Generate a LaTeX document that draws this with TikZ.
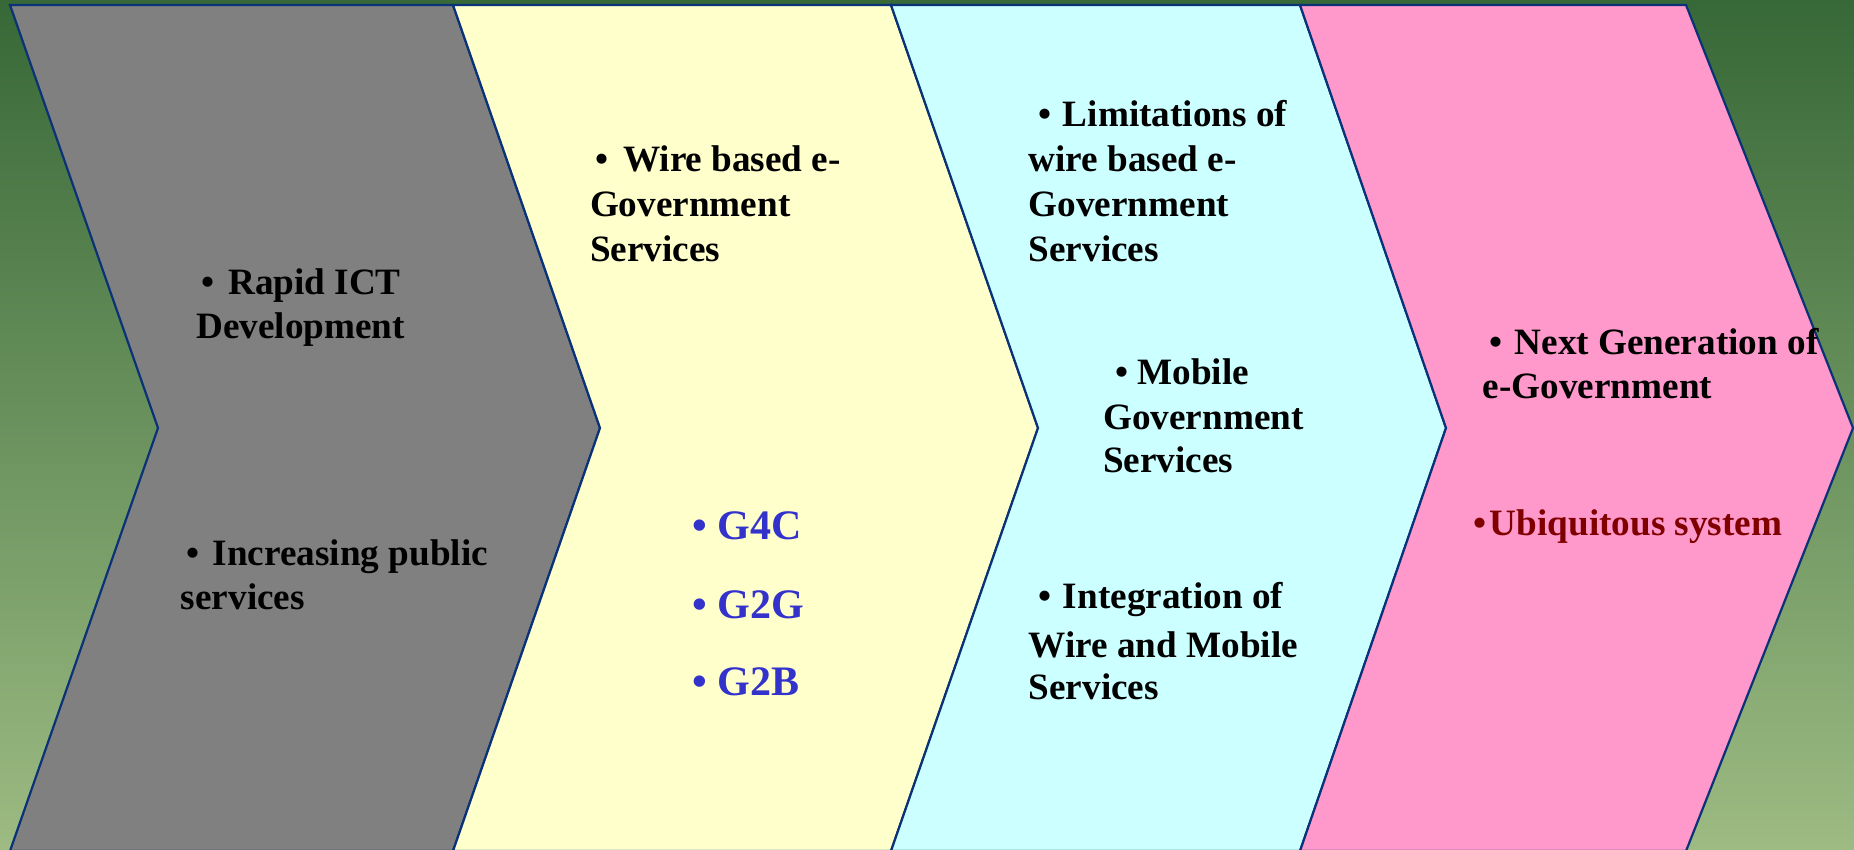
\documentclass[tikz,border=0pt]{standalone}
\usepackage{fontspec}
\setmainfont{Liberation Serif}
\definecolor{bgtop}{RGB}{55,104,55}
\definecolor{bgmid}{RGB}{100,143,88}
\definecolor{bgbot}{RGB}{157,187,131}
\definecolor{edge}{RGB}{10,50,120}
\definecolor{cgray}{RGB}{128,128,128}
\definecolor{cyel}{RGB}{255,255,204}
\definecolor{ccyan}{RGB}{204,255,255}
\definecolor{cpink}{RGB}{255,153,204}
\definecolor{gblue}{RGB}{51,51,204}
\definecolor{ured}{RGB}{128,0,0}
\newdimen\pxu
\pxu=1.1824pt
\tikzset{
  chev/.style={draw=edge, line width=2.2pt, line join=miter},
  txt/.style={anchor=base west, inner sep=0pt, outer sep=0pt, font=\fontsize{37.2}{44}\selectfont\bfseries},
  gtxt/.style={anchor=base west, inner sep=0pt, outer sep=0pt, text=gblue, font=\fontsize{42}{48}\selectfont\bfseries},
  rtxt/.style={txt, text=ured}
}
\newcommand\bul[2]{\hspace*{#1\pxu}\makebox[#2\pxu][l]{•}}
\begin{document}
\begin{tikzpicture}[x=1pt,y=-1pt]
\useasboundingbox (0,0) rectangle (1854,850);
\clip (0,0) rectangle (1854,850);
\shade[top color=bgtop, middle color=bgmid, bottom color=bgbot] (0,0) rectangle (1854,850);
% chevrons
\filldraw[chev, fill=cgray] (10,5) -- (453,5) -- (600,428) -- (453,851) -- (10,851) -- (158,428) -- cycle;
\filldraw[chev, fill=cyel] (453,5) -- (891,5) -- (1038,428) -- (891,851) -- (453,851) -- (600,428) -- cycle;
\filldraw[chev, fill=ccyan] (891,5) -- (1300,5) -- (1446,428) -- (1300,851) -- (891,851) -- (1038,428) -- cycle;
\filldraw[chev, fill=cpink] (1300,5) -- (1686,5) -- (1853,428) -- (1686,851) -- (1300,851) -- (1446,428) -- cycle;
\begin{scope}[x=1.1824pt,y=-1.1824pt]
% chevron 1
\node[txt] (a1) at (166,249) {\bul{4}{23}Rapid ICT};
\node[txt] (a2) at (166,286.5) {Development};
\node[txt] (a3) at (153,478) {\bul{5}{22}Increasing public};
\node[txt] (a4) at (153,515.5) {services};
% chevron 2
\node[txt] (b1) at (499,145) {\bul{5}{23}Wire based e-};
\node[txt] (b2) at (499,183) {Government};
\node[txt] (b3) at (499,221) {Services};
\node[gtxt] (b4) at (586,456) {\makebox[21\pxu][l]{•}G4C};
\node[gtxt] (b5) at (586,523) {\makebox[21\pxu][l]{•}G2G};
\node[gtxt] (b6) at (586,588) {\makebox[21\pxu][l]{•}G2B};
% chevron 3
\node[txt] (c1) at (870,107) {\bul{8}{21}Limitations of};
\node[txt] (c2) at (870,145) {wire based e-};
\node[txt] (c3) at (870,183) {Government};
\node[txt] (c4) at (870,221) {Services};
\node[txt] (c5) at (933,325) {\bul{10}{19}Mobile};
\node[txt] (c6) at (933,363) {Government};
\node[txt] (c7) at (933,400) {Services};
\node[txt] (c8) at (870,515) {\bul{8}{21}Integration of};
\node[txt] (c9) at (870,556) {Wire and Mobile};
\node[txt] (c10) at (870,592) {Services};
% chevron 4
\node[txt] (d1) at (1254,300) {\bul{6}{21}Next Generation of};
\node[txt] (d2) at (1254,337) {e-Government};
\node[rtxt] (d3) at (1246,453) {\makebox[14\pxu][l]{•}Ubiquitous system};
\end{scope}
\end{tikzpicture}
\end{document}
